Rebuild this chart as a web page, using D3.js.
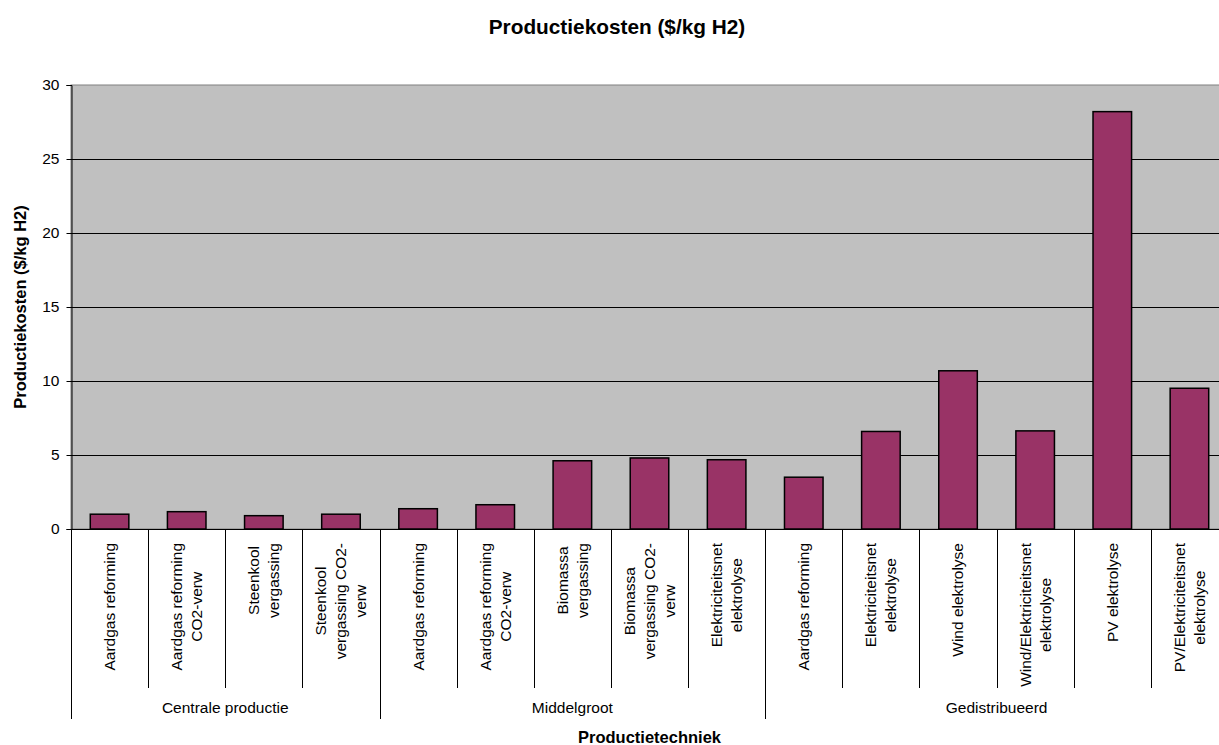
<!DOCTYPE html>
<html lang="nl">
<head>
<meta charset="UTF-8">
<script src="https://d3js.org/d3.v7.min.js"></script>
<style>
  body { margin: 0; background: #fff; }
  svg { display: block; font-family: "Liberation Sans", Arial, sans-serif; }
</style>
</head>
<body>
<div id="chart"></div>
<script>
// data
var title = "Productiekosten ($/kg H2)";
var yTitle = "Productiekosten ($/kg H2)";
var xTitle = "Productietechniek";
var groups = ["Centrale productie", "Middelgroot", "Gedistribueerd"];
var groupSizes = [4, 5, 6];
var categories = [
  "Aardgas reforming", "Aardgas reforming\nCO2-verw", "Steenkool\nvergassing", "Steenkool\nvergassing CO2-\nverw",
  "Aardgas reforming", "Aardgas reforming\nCO2-verw", "Biomassa\nvergassing", "Biomassa\nvergassing CO2-\nverw", "Elektriciteitsnet\nelektrolyse",
  "Aardgas reforming", "Elektriciteitsnet\nelektrolyse", "Wind elektrolyse", "Wind/Elektriciteitsnet\nelektrolyse", "PV elektrolyse", "PV/Elektriciteitsnet\nelektrolyse"
];
var values = [1.0, 1.17, 0.9, 1.0, 1.37, 1.64, 4.61, 4.8, 4.68, 3.5, 6.59, 10.69, 6.63, 28.2, 9.51];
var yTicks = [0, 5, 10, 15, 20, 25, 30];

var width = 1219, height = 745;
var plot = {left: 71, top: 85, right: 1228, bottom: 529};

var svg = d3.select("#chart").append("svg")
  .attr("width", width).attr("height", height);

var idx = d3.range(categories.length);
var x = d3.scaleBand().domain(idx).range([plot.left, plot.right]).padding(0);
var y = d3.scaleLinear().domain([0, 30]).range([plot.bottom, plot.top]);

// plot background
svg.append("rect")
  .attr("x", plot.left).attr("y", plot.top)
  .attr("width", plot.right - plot.left).attr("height", plot.bottom - plot.top)
  .attr("fill", "#c0c0c0").attr("stroke", "#808080").attr("stroke-width", 1);

// gridlines
svg.append("g").selectAll("line")
  .data(yTicks.filter(function(d){ return d > 0 && d < 30; }))
  .join("line")
  .attr("x1", plot.left).attr("x2", plot.right)
  .attr("y1", function(d){ return Math.round(y(d)) + 0.5; })
  .attr("y2", function(d){ return Math.round(y(d)) + 0.5; })
  .attr("stroke", "#000").attr("stroke-width", 1);

// bars
svg.append("g").selectAll("rect")
  .data(values)
  .join("rect")
  .attr("x", function(d, i){ return x(i) + x.bandwidth() * 0.25; })
  .attr("width", x.bandwidth() * 0.5)
  .attr("y", function(d){ return y(d); })
  .attr("height", function(d){ return y(0) - y(d); })
  .attr("fill", "#993366")
  .attr("stroke", "#000").attr("stroke-width", 1.5);

// y axis
var yAxis = d3.axisLeft(y).tickValues(yTicks).tickSize(5).tickPadding(7).tickFormat(d3.format("d"));
var gy = svg.append("g").attr("transform", "translate(" + (plot.left + 0.5) + ",0)").call(yAxis);
gy.select(".domain").attr("stroke", "#000");
gy.selectAll(".tick line").attr("stroke", "#000");
gy.selectAll(".tick text").attr("font-size", "15.5px").attr("fill", "#000")
  .attr("font-family", "Liberation Sans, Arial, sans-serif");

// x axis line
svg.append("line")
  .attr("x1", plot.left).attr("x2", plot.right)
  .attr("y1", plot.bottom + 0.5).attr("y2", plot.bottom + 0.5)
  .attr("stroke", "#000");

// category separators
var groupStarts = [0];
groupSizes.forEach(function(s, i){ groupStarts.push(groupStarts[i] + s); });
var catEdges = d3.range(categories.length + 1);
svg.append("g").selectAll("line")
  .data(catEdges)
  .join("line")
  .attr("x1", function(d){ return Math.round(plot.left + d * x.step()) + 0.5; })
  .attr("x2", function(d){ return Math.round(plot.left + d * x.step()) + 0.5; })
  .attr("y1", plot.bottom)
  .attr("y2", function(d){ return groupStarts.indexOf(d) >= 0 ? 719 : 688; })
  .attr("stroke", "#000").attr("stroke-width", 1);

// category labels (rotated)
var lh = 20;
var labelTop = 543;
idx.forEach(function(i){
  var lines = categories[i].split("\n");
  var g = svg.append("g");
  var texts = lines.map(function(t, k){
    return g.append("text")
      .attr("font-size", "15.5px")
      .attr("text-anchor", "middle")
      .attr("fill", "#000")
      .attr("y", (k - (lines.length - 1) / 2) * lh)
      .attr("dy", "0.35em")
      .text(t);
  });
  var maxLen = d3.max(texts, function(t){ return t.node().getComputedTextLength(); });
  g.attr("transform", "translate(" + (x(i) + x.bandwidth() / 2) + "," + (labelTop + maxLen / 2) + ") rotate(-90)");
});

// group labels
svg.append("g").selectAll("text")
  .data(groups)
  .join("text")
  .attr("x", function(d, i){ return plot.left + (groupStarts[i] + groupSizes[i] / 2) * x.step(); })
  .attr("y", 713)
  .attr("text-anchor", "middle")
  .attr("font-size", "15.5px")
  .attr("fill", "#000")
  .text(function(d){ return d; });

// titles
svg.append("text")
  .attr("x", 617).attr("y", 34)
  .attr("text-anchor", "middle")
  .attr("font-size", "20.8px").attr("font-weight", "bold")
  .text(title);

svg.append("text")
  .attr("x", (plot.left + plot.right) / 2).attr("y", 743)
  .attr("text-anchor", "middle")
  .attr("font-size", "16.5px").attr("font-weight", "bold")
  .text(xTitle);

svg.append("text")
  .attr("transform", "translate(26," + (plot.top + plot.bottom) / 2 + ") rotate(-90)")
  .attr("text-anchor", "middle")
  .attr("font-size", "16.5px").attr("font-weight", "bold")
  .text(yTitle);
</script>
</body>
</html>
